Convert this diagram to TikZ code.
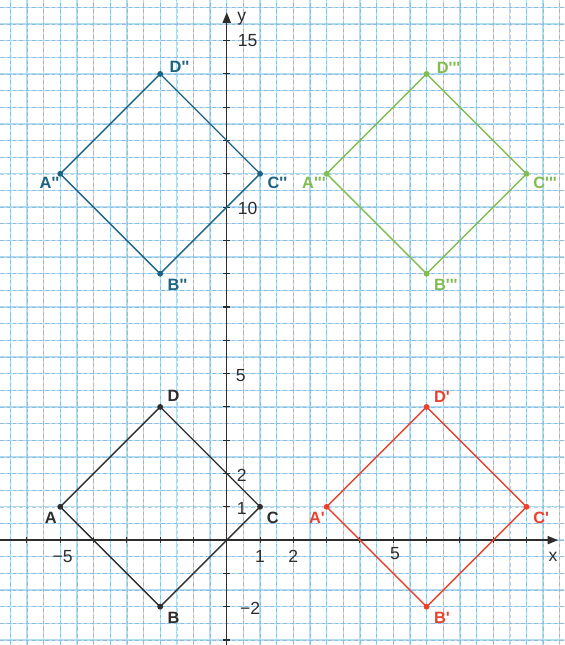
\documentclass[tikz,border=0pt]{standalone}
\usepackage{fontspec}
\setmainfont{Liberation Sans}
\usetikzlibrary{arrows.meta}
\definecolor{gridc}{RGB}{178,220,240}
\definecolor{gridd}{RGB}{100,150,205}
\definecolor{ink}{RGB}{45,45,45}
\definecolor{tealc}{RGB}{28,98,132}
\definecolor{redc}{RGB}{232,66,46}
\definecolor{greenc}{RGB}{128,188,82}
\newcommand{\pq}{\textquotesingle}
\tikzset{
  gridsolid/.style={gridc, line width=1.1pt},
  griddash/.style={gridd, line width=0.5pt, dash pattern=on 3pt off 2.5pt, opacity=0.45},
  axisline/.style={ink, line width=1.2pt},
  tickmark/.style={ink, line width=0.9pt},
  ticklab/.style={ink, font=\fontsize{15}{17}\selectfont, inner sep=0pt},
  shapeline/.style={line width=1.2pt, line join=miter},
  ptlab/.style={font=\fontsize{14}{16}\selectfont\bfseries, inner sep=0pt},
  vdot/.style={circle, fill, inner sep=0pt, minimum size=5pt},
}
\begin{document}
\begin{tikzpicture}[x=1cm,y=1cm]
\useasboundingbox (-6.81,-3.15) rectangle (10.13,16.22);
\clip (-6.81,-3.15) rectangle (10.13,16.22);
\fill[white] (-6.81,-3.15) rectangle (10.13,16.22);
% grid
\draw[gridsolid] (-7,-3.5) grid[step=0.5] (10.5,16.5);
\draw[griddash] (-7,-3.5) grid[step=0.5] (10.5,16.5);
% axes
\coordinate (xs) at (-7,0);
\coordinate (xe) at (9.95,0);
\coordinate (ys) at (0,-3.5);
\coordinate (ye) at (0,15.85);
\draw[axisline, -{Triangle[length=9pt,width=7pt]}] (xs) -- (xe);
\draw[axisline, -{Triangle[length=9pt,width=7pt]}] (ys) -- (ye);
\foreach \x in {-6,...,9} \draw[tickmark] (\x,-0.1) -- (\x,0.1);
\foreach \y in {-3,...,15} \draw[tickmark] (-0.1,\y) -- (0.1,\y);
\node[ticklab] (lx) at (9.8,-0.5) {x};
\node[ticklab] (ly) at (0.45,15.67) {y};
\node[ticklab] (tm5) at (-4.93,-0.5) {−5};
\node[ticklab] (t1) at (1.0,-0.5) {1};
\node[ticklab] (t2) at (2.0,-0.5) {2};
\node[ticklab] (t5) at (5.05,-0.4) {5};
\node[ticklab] (u15) at (0.63,15.0) {15};
\node[ticklab] (u10) at (0.63,9.97) {10};
\node[ticklab] (u5) at (0.42,4.95) {5};
\node[ticklab] (u2) at (0.45,1.95) {2};
\node[ticklab] (u1) at (0.45,0.96) {1};
\node[ticklab] (um2) at (0.7,-2.04) {−2};
% square ABCD
\begin{scope}[ink]
\node[vdot] (A) at (-5,1) {};
\node[vdot] (B) at (-2,-2) {};
\node[vdot] (C) at (1,1) {};
\node[vdot] (D) at (-2,4) {};
\draw[shapeline] (A.center) -- (B.center) -- (C.center) -- (D.center) -- cycle;
\node[ptlab, anchor=base east] (lA) at ([shift={(-0.1,-0.49)}]A.center) {A};
\node[ptlab, anchor=base west] (lB) at ([shift={(0.22,-0.49)}]B.center) {B};
\node[ptlab, anchor=base west] (lC) at ([shift={(0.2,-0.49)}]C.center) {C};
\node[ptlab, anchor=base west] (lD) at ([shift={(0.22,0.15)}]D.center) {D};
\end{scope}
% A'B'C'D'
\begin{scope}[redc]
\node[vdot] (A1) at (3,1) {};
\node[vdot] (B1) at (6,-2) {};
\node[vdot] (C1) at (9,1) {};
\node[vdot] (D1) at (6,4) {};
\draw[shapeline] (A1.center) -- (B1.center) -- (C1.center) -- (D1.center) -- cycle;
\node[ptlab, anchor=base east] (lA1) at ([shift={(-0.05,-0.49)}]A1.center) {A\pq};
\node[ptlab, anchor=base west] (lB1) at ([shift={(0.22,-0.49)}]B1.center) {B\pq};
\node[ptlab, anchor=base west] (lC1) at ([shift={(0.2,-0.49)}]C1.center) {C\pq};
\node[ptlab, anchor=base west] (lD1) at ([shift={(0.22,0.12)}]D1.center) {D\pq};
\end{scope}
% A''B''C''D''
\begin{scope}[tealc]
\node[vdot] (A2) at (-5,11) {};
\node[vdot] (B2) at (-2,8) {};
\node[vdot] (C2) at (1,11) {};
\node[vdot] (D2) at (-2,14) {};
\draw[shapeline] (A2.center) -- (B2.center) -- (C2.center) -- (D2.center) -- cycle;
\node[ptlab, anchor=base east] (lA2) at ([shift={(-0.02,-0.43)}]A2.center) {A\pq\pq};
\node[ptlab, anchor=base west] (lB2) at ([shift={(0.22,-0.49)}]B2.center) {B\pq\pq};
\node[ptlab, anchor=base west] (lC2) at ([shift={(0.22,-0.43)}]C2.center) {C\pq\pq};
\node[ptlab, anchor=base west] (lD2) at ([shift={(0.28,0.05)}]D2.center) {D\pq\pq};
\end{scope}
% A'''B'''C'''D'''
\begin{scope}[greenc]
\node[vdot] (A3) at (3,11) {};
\node[vdot] (B3) at (6,8) {};
\node[vdot] (C3) at (9,11) {};
\node[vdot] (D3) at (6,14) {};
\draw[shapeline] (A3.center) -- (B3.center) -- (C3.center) -- (D3.center) -- cycle;
\node[ptlab, anchor=base east] (lA3) at ([shift={(-0.02,-0.43)}]A3.center) {A\pq\pq\pq};
\node[ptlab, anchor=base west] (lB3) at ([shift={(0.22,-0.49)}]B3.center) {B\pq\pq\pq};
\node[ptlab, anchor=base west] (lC3) at ([shift={(0.2,-0.43)}]C3.center) {C\pq\pq\pq};
\node[ptlab, anchor=base west] (lD3) at ([shift={(0.3,0.0)}]D3.center) {D\pq\pq\pq};
\end{scope}
\end{tikzpicture}
\end{document}
